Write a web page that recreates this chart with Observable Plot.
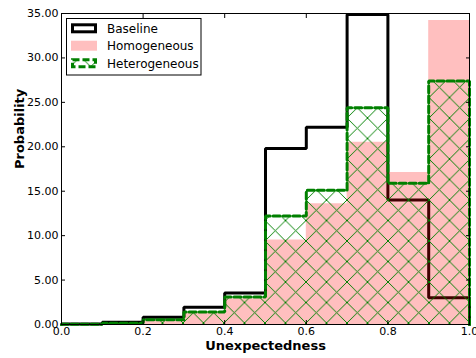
<!DOCTYPE html>
<html><head><meta charset="utf-8">
<script src="https://cdn.jsdelivr.net/npm/d3@7"></script>
<script src="https://cdn.jsdelivr.net/npm/@observablehq/plot@0.6"></script>
<style>body{margin:0;background:#fff;} svg{display:block}</style>
</head><body><div id="chart"></div>
<script>
const binEdges = [0, 0.1, 0.2, 0.3, 0.4, 0.5, 0.6, 0.7, 0.8, 0.9, 1.0];
const baseline = [0.05, 0.25, 0.82, 1.95, 3.55, 19.8, 22.2, 34.9, 14.0, 3.0];
const homogeneous = [0.02, 0.1, 0.5, 1.3, 2.9, 9.5, 13.6, 20.5, 17.1, 34.2];
const heterogeneous = [0.03, 0.15, 0.53, 1.4, 3.1, 12.2, 15.1, 24.4, 15.9, 27.4];
const seriesNames = ["Baseline", "Homogeneous", "Heterogeneous"];
const xTicks = [0, 0.2, 0.4, 0.6, 0.8, 1.0];
const yTicks = [0, 5, 10, 15, 20, 25, 30, 35];
const xLabel = "Unexpectedness";
const yLabel = "Probability";

function stepPoints(values) {
  const pts = [{x: binEdges[0], y: 0, y0: 0}];
  values.forEach((v, i) => {
    pts.push({x: binEdges[i], y: v, y0: 0});
    pts.push({x: binEdges[i + 1], y: v, y0: 0});
  });
  pts.push({x: binEdges[binEdges.length - 1], y: 0, y0: 0});
  return pts;
}
const NS = "http://www.w3.org/2000/svg";
const defsMark = () => {
  const d = document.createElementNS(NS, "defs");
  d.innerHTML = `<pattern id="hatch" patternUnits="userSpaceOnUse" x="19" y="15.5" width="20.5" height="20.5"><path d="M-1,-1L21.5,21.5M21.5,-1L-1,21.5" stroke="#008000" stroke-width="1.1" fill="none" shape-rendering="crispEdges"/></pattern>`;
  return d;
};
const green = "#008000";
const font = "DejaVu Sans";

const chart = Plot.plot({
  width: 476, height: 358,
  marginLeft: 61, marginRight: 7, marginTop: 13, marginBottom: 34,
  style: {fontFamily: font, fontSize: "11px", color: "#000", background: "#fff"},
  x: {domain: [0, 1]},
  y: {domain: [0, 35]},
  marks: [
    defsMark,
    Plot.line(stepPoints(baseline), {x: "x", y: "y", stroke: "#000", strokeWidth: 3, strokeLinejoin: "miter"}),
    Plot.areaY(stepPoints(homogeneous), {x: "x", y1: "y0", y2: "y", fill: "#ff0000", fillOpacity: 0.25}),
    Plot.areaY(stepPoints(heterogeneous), {x: "x", y1: "y0", y2: "y", fill: "url(#hatch)"}),
    Plot.line(stepPoints(heterogeneous), {x: "x", y: "y", stroke: green, strokeWidth: 3, strokeDasharray: "7,3", strokeLinejoin: "miter"}),
    Plot.frame({stroke: "#000", strokeWidth: 1}),
    Plot.axisY({anchor: "left", ticks: yTicks, tickSize: -4, tickPadding: 7, tickFormat: d3.format(".2f"), label: null, fontSize: 11}),
    Plot.axisY({anchor: "right", ticks: yTicks, tickSize: -4, tickFormat: () => "", label: null}),
    Plot.axisX({anchor: "bottom", ticks: xTicks, tickSize: -4, tickPadding: 7, tickFormat: d3.format(".1f"), label: null, fontSize: 11}),
    Plot.axisX({anchor: "top", ticks: xTicks, tickSize: -4, tickFormat: () => "", label: null}),
    Plot.text([xLabel], {frameAnchor: "bottom", dy: 21, text: d => d, fontWeight: "bold", fontSize: 13, lineAnchor: "middle"}),
    Plot.text([yLabel], {frameAnchor: "left", dx: -42, text: d => d, rotate: -90, fontWeight: "bold", fontSize: 13, lineAnchor: "middle"})
  ]
});

// legend
const svg = d3.select(chart);
const lg = svg.append("g").attr("font-family", font).attr("font-size", 12).attr("text-anchor", "start");
lg.append("rect").attr("x", 66.5).attr("y", 18.5).attr("width", 134.5).attr("height", 56.5)
  .attr("fill", "#fff").attr("stroke", "#000").attr("stroke-width", 1);
const rowY = [28.3, 45.7, 63.3];
seriesNames.forEach((name, i) => {
  const cy = rowY[i];
  if (i === 0) {
    lg.append("rect").attr("x", 72.5).attr("y", cy - 3.5).attr("width", 23).attr("height", 7)
      .attr("fill", "#fff").attr("stroke", "#000").attr("stroke-width", 3);
  } else if (i === 1) {
    lg.append("rect").attr("x", 71).attr("y", cy - 5).attr("width", 26).attr("height", 10)
      .attr("fill", "#ff0000").attr("fill-opacity", 0.25);
  } else {
    lg.append("rect").attr("x", 72.5).attr("y", cy - 3.5).attr("width", 23).attr("height", 7)
      .attr("fill", "url(#hatch)").attr("stroke", green).attr("stroke-width", 3).attr("stroke-dasharray", "7,3");
  }
  lg.append("text").attr("x", 107).attr("y", cy).attr("dy", "0.35em").attr("fill", "#000").attr("text-anchor", "start").text(name);
});

document.getElementById("chart").appendChild(chart);
</script>
</body></html>
